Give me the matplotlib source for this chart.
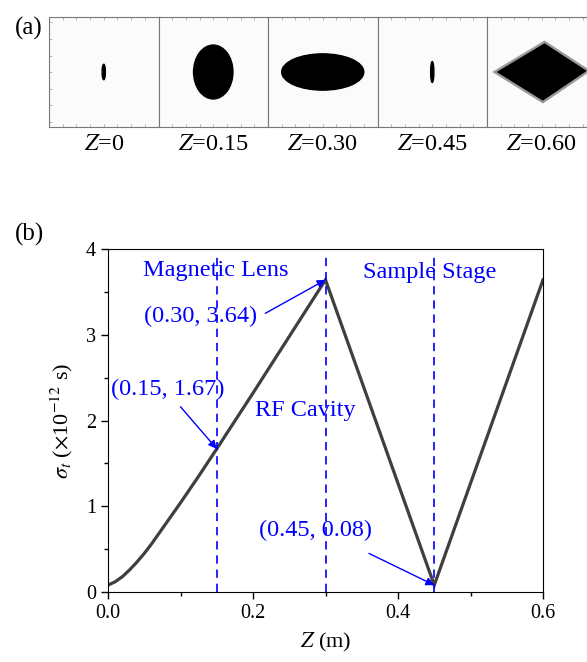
import matplotlib
matplotlib.use("Agg")
import matplotlib.pyplot as plt
from matplotlib.patches import Ellipse, Polygon
from matplotlib.ticker import MultipleLocator, FormatStrFormatter

plt.rcParams['font.family'] = ['Liberation Serif', 'DejaVu Serif']
plt.rcParams['mathtext.fontset'] = 'stix'

# (a) beam spot snapshots: half-width / half-height in units of the box half-size
spot_labels = ["0", "0.15", "0.30", "0.45", "0.60"]
spot_hw = [0.03, 0.36, 0.75, 0.03, 0.82]
spot_hh = [0.14, 0.49, 0.33, 0.19, 0.52]
spot_shape = ["ellipse", "ellipse", "ellipse", "ellipse", "diamond"]

# (b) bunch length along the beamline
z = [0.0, 0.01, 0.02, 0.03, 0.04, 0.05, 0.06, 0.07, 0.08, 0.09, 0.10, 0.125,
     0.15, 0.20, 0.25, 0.30, 0.45, 0.60]
sigma_t = [0.08, 0.12, 0.18, 0.26, 0.35, 0.45, 0.56, 0.68, 0.80, 0.92, 1.04, 1.35,
           1.67, 2.32, 2.98, 3.64, 0.08, 3.64]

elements = [0.15, 0.30, 0.45]
marks_x = [0.15, 0.30, 0.45]
marks_y = [1.67, 3.64, 0.08]

fig = plt.figure(figsize=(5.87, 6.62), dpi=100)

box_w = 109.5 / 587
for i in range(5):
    a = fig.add_axes([49 / 587 + i * box_w, 1 - 127 / 662, box_w, 110 / 662])
    a.set_xlim(-1, 1)
    a.set_ylim(-1, 1)
    a.set_facecolor('#fbfbfb')
    for s in a.spines.values():
        s.set_color('#777777')
        s.set_linewidth(0.8)
    a.xaxis.set_major_locator(MultipleLocator(0.25))
    a.yaxis.set_major_locator(MultipleLocator(0.3))
    a.tick_params(direction='in', length=2, width=0.6, color='#aaaaaa',
                  top=True, right=False, left=(i == 0),
                  labelbottom=False, labelleft=False)
    hw, hh = spot_hw[i], spot_hh[i]
    if spot_shape[i] == "ellipse":
        a.add_patch(Ellipse((0, 0), 2 * hw, 2 * hh, color='black'))
    else:
        outline = [(-hw, 0), (0.05, hh), (hw, 0.02), (0.02, -hh)]
        # soft fringe around the core of the spot
        a.add_patch(Polygon(outline, closed=True, color='#222222', lw=3.5, alpha=0.45))
        a.add_patch(Polygon(outline, closed=True, color='black', lw=0))
    fig.text(49 / 587 + (i + 0.5) * box_w, 1 - 145 / 662,
             "$Z$=" + spot_labels[i], ha='center', va='center', fontsize=17.5)

fig.text(15 / 587, 1 - 28 / 662, "(a)", fontsize=18, va='center')
fig.text(15 / 587, 1 - 234 / 662, "(b)", fontsize=18, va='center')

ax = fig.add_axes([108 / 587, 1 - 592 / 662, 435 / 587, 343 / 662])
ax.plot(z, sigma_t, color='#3f3f3f', lw=2.3, solid_joinstyle='miter')
for x in elements:
    ax.plot([x, x], [0, 3.96], color='blue', lw=1.2, ls=(0, (5, 3.5)))

ax.set_xlim(0, 0.6)
ax.set_ylim(0, 4)
ax.xaxis.set_major_locator(MultipleLocator(0.2))
ax.xaxis.set_minor_locator(MultipleLocator(0.1))
ax.yaxis.set_major_locator(MultipleLocator(1))
ax.yaxis.set_minor_locator(MultipleLocator(0.5))
ax.xaxis.set_major_formatter(FormatStrFormatter('%.1f'))
ax.tick_params(which='major', direction='out', length=5, width=1, labelsize=14.5)
ax.tick_params(which='minor', direction='out', length=3, width=1)
ax.set_xlabel("$Z$ (m)", fontsize=16, labelpad=6)
ax.set_ylabel(r"$\sigma_t$ ($\times$10$^{-12}$ s)", fontsize=16, labelpad=8)

txt = dict(color='blue', fontsize=17.5, ha='center', va='center')
ax.text(0.148, 3.75, "Magnetic Lens", **txt)
ax.text(0.272, 2.12, "RF Cavity", **txt)
ax.text(0.444, 3.73, "Sample Stage", **txt)

arrow = dict(arrowstyle='-|>', color='blue', lw=1, mutation_scale=12, shrinkA=0, shrinkB=0)
ax.annotate(f"({marks_x[0]:.2f}, {marks_y[0]:.2f})", xy=(marks_x[0], marks_y[0]),
            xytext=(0.083, 2.36), **txt)
ax.annotate("", xy=(marks_x[0], marks_y[0]), xytext=(0.10, 2.16), arrowprops=arrow)
ax.annotate(f"({marks_x[1]:.2f}, {marks_y[1]:.2f})", xy=(marks_x[1], marks_y[1]),
            xytext=(0.128, 3.21), **txt)
ax.annotate("", xy=(marks_x[1], marks_y[1]), xytext=(0.217, 3.25), arrowprops=arrow)
ax.annotate(f"({marks_x[2]:.2f}, {marks_y[2]:.2f})", xy=(marks_x[2], marks_y[2]),
            xytext=(0.286, 0.72), **txt)
ax.annotate("", xy=(marks_x[2], marks_y[2]), xytext=(0.36, 0.45), arrowprops=arrow)

fig.savefig("out.png", dpi=100)
